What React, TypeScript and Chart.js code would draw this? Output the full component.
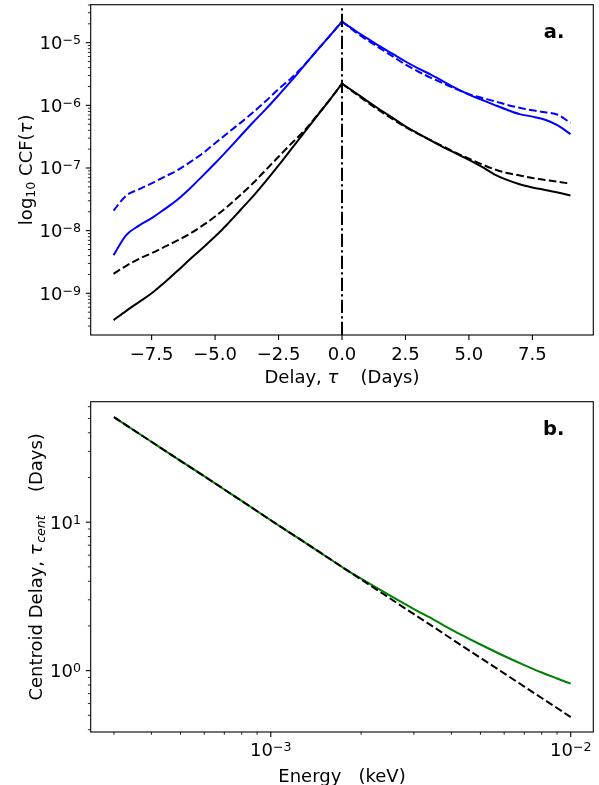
import React, { useEffect, useRef } from "react";
import { Chart, registerables } from "chart.js";

Chart.register(...registerables);

// ---------- Panel a: cross-correlation functions ----------
const TAU = [-9, -8.5, -8, -7.5, -7, -6.5, -6, -5.5, -5, -4.5, -4, -3.5, -3, -2.5, -2, -1.5, -1, -0.5, 0,
  0.5, 1, 1.5, 2, 2.5, 3, 3.5, 4, 4.5, 5, 5.5, 6, 6.5, 7, 7.5, 8, 8.5, 9];

const CCF_BLUE_SOLID = [4.07e-9, 8.51e-9, 1.2e-8, 1.58e-8, 2.19e-8, 3.09e-8, 4.68e-8, 7.41e-8, 1.19e-7, 1.95e-7,
  3.24e-7, 5.37e-7, 8.71e-7, 1.45e-6, 2.45e-6, 4.27e-6, 7.41e-6, 1.26e-5, 2.16e-5,
  1.58e-5, 1.17e-5, 8.71e-6, 6.61e-6, 5.01e-6, 3.89e-6, 3.09e-6, 2.4e-6, 1.86e-6, 1.48e-6, 1.23e-6, 1.02e-6,
  8.51e-7, 7.24e-7, 6.61e-7, 5.89e-7, 4.79e-7, 3.47e-7];

const CCF_BLUE_DASHED = [2.09e-8, 3.63e-8, 4.57e-8, 5.69e-8, 7.24e-8, 9.12e-8, 1.23e-7, 1.7e-7, 2.48e-7, 3.63e-7,
  5.25e-7, 7.76e-7, 1.17e-6, 1.82e-6, 2.72e-6, 4.32e-6, 7.41e-6, 1.26e-5, 2.19e-5,
  1.51e-5, 1.1e-5, 8.13e-6, 6.03e-6, 4.47e-6, 3.47e-6, 2.75e-6, 2.24e-6, 1.82e-6, 1.51e-6, 1.32e-6, 1.17e-6,
  1.02e-6, 9.12e-7, 8.32e-7, 7.76e-7, 7.08e-7, 5.25e-7];

const CCF_BLACK_SOLID = [3.72e-10, 5.25e-10, 7.24e-10, 1.0e-9, 1.48e-9, 2.24e-9, 3.47e-9, 5.25e-9, 8.04e-9, 1.29e-8,
  2.14e-8, 3.55e-8, 6.17e-8, 1.1e-7, 2.0e-7, 3.63e-7, 6.61e-7, 1.2e-6, 2.22e-6,
  1.62e-6, 1.17e-6, 8.51e-7, 6.31e-7, 4.62e-7, 3.55e-7, 2.75e-7, 2.14e-7, 1.7e-7, 1.35e-7, 1.05e-7, 7.94e-8,
  6.46e-8, 5.5e-8, 4.9e-8, 4.47e-8, 4.07e-8, 3.63e-8];

const CCF_BLACK_DASHED = [2.04e-9, 2.75e-9, 3.55e-9, 4.37e-9, 5.5e-9, 6.92e-9, 8.91e-9, 1.2e-8, 1.68e-8, 2.45e-8,
  3.72e-8, 5.75e-8, 9.33e-8, 1.51e-7, 2.45e-7, 3.89e-7, 6.76e-7, 1.2e-6, 2.22e-6,
  1.58e-6, 1.12e-6, 8.13e-7, 6.03e-7, 4.52e-7, 3.51e-7, 2.75e-7, 2.19e-7, 1.74e-7, 1.41e-7, 1.15e-7, 9.55e-8,
  8.32e-8, 7.59e-8, 6.92e-8, 6.46e-8, 6.03e-8, 5.62e-8];

const TAU_RANGE = [-9.9, 9.9];
const TAU_TICKS = [-7.5, -5, -2.5, 0, 2.5, 5, 7.5];
const CCF_RANGE = [2.16e-10, 4.04e-5];
const CCF_DECADES = [-9, -8, -7, -6, -5];
const ZERO_LAG = [0, 0];

// ---------- Panel b: centroid delay vs energy ----------
const ENERGY = [3e-4, 4e-4, 5e-4, 6e-4, 7e-4, 8e-4, 1e-3, 1.25e-3, 1.5e-3, 1.75e-3, 2e-3, 2.5e-3, 3e-3, 3.5e-3,
  4e-3, 4.5e-3, 5e-3, 6e-3, 7e-3, 8e-3, 9e-3, 1e-2];
const DELAY_CENTROID = [51.0, 34.8, 25.9, 20.4, 16.6, 13.9, 10.3, 7.68, 6.03, 4.91, 4.16, 3.2, 2.6, 2.2,
  1.89, 1.67, 1.5, 1.255, 1.09, 0.971, 0.885, 0.817];
const DELAY_POWERLAW = [51.0, 34.8, 25.9, 20.4, 16.6, 13.9, 10.3, 7.68, 6.03, 4.91, 4.12, 3.06, 2.4, 1.96,
  1.64, 1.4, 1.22, 0.958, 0.781, 0.654, 0.56, 0.486];
const ENERGY_RANGE = [2.51e-4, 1.189e-2];
const ENERGY_DECADES = [-3, -2];
const DELAY_RANGE = [0.386, 64.8];
const DELAY_DECADES = [0, 1];

// ---------- styling helpers ----------
const FS = 18;
const FAMILY = "'DejaVu Sans', sans-serif";
const DASH = [7.7, 3.3];
const DASHDOT = [13.3, 3.3, 2.1, 3.3];

type Seg = { t: string; s?: number; dy?: number; it?: boolean; b?: boolean; pad?: number };

function fontOf(size: number, it?: boolean, b?: boolean) {
  return `${it ? "italic " : ""}${b ? "bold " : ""}${size}px ${FAMILY}`;
}
function segWidth(ctx: CanvasRenderingContext2D, segs: Seg[], fs: number) {
  let w = 0;
  for (const g of segs) {
    ctx.font = fontOf(fs * (g.s ?? 1), g.it, g.b);
    w += ctx.measureText(g.t).width + (g.pad ?? 0);
  }
  return w;
}
function drawSegs(ctx: CanvasRenderingContext2D, segs: Seg[], x: number, y: number, fs: number,
  align: "left" | "center" | "right") {
  const w = segWidth(ctx, segs, fs);
  let cx = align === "center" ? x - w / 2 : align === "right" ? x - w : x;
  ctx.textAlign = "left";
  ctx.textBaseline = "alphabetic";
  for (const g of segs) {
    ctx.font = fontOf(fs * (g.s ?? 1), g.it, g.b);
    ctx.fillText(g.t, cx, y + (g.dy ?? 0));
    cx += ctx.measureText(g.t).width + (g.pad ?? 0);
  }
}
function minus(s: string) {
  return s.replace("-", "\u2212");
}
function powLabel(exp: number): Seg[] {
  return [{ t: "10" }, { t: minus(String(exp)), s: 0.7, dy: -5 }];
}
function logMinors(min: number, max: number) {
  const out: number[] = [];
  for (let d = Math.floor(Math.log10(min)); d <= Math.floor(Math.log10(max)); d++) {
    for (let k = 2; k <= 9; k++) {
      const v = k * Math.pow(10, d);
      if (v >= min && v <= max) out.push(v);
    }
  }
  return out;
}

type AxisSpec = {
  xMajor: number[]; xMinor: number[]; xLabels: Seg[][]; xLabelBase: number;
  yMajor: number[]; yMinor: number[]; yLabels: Seg[][];
  xTitle: Seg[]; xTitleBase: number; yTitle: Seg[]; yTitleX: number;
  panel: string;
};

function mplPlugin(spec: AxisSpec) {
  return {
    id: "mplAxes",
    afterDraw(chart: any) {
      const ctx: CanvasRenderingContext2D = chart.ctx;
      const ca = chart.chartArea;
      const xs = chart.scales.x;
      const ys = chart.scales.y;
      ctx.save();
      ctx.fillStyle = "#000";
      ctx.strokeStyle = "#000";
      ctx.lineWidth = 1.1;
      ctx.strokeRect(ca.left, ca.top, ca.right - ca.left, ca.bottom - ca.top);
      const tick = (horizontal: boolean, p: number, len: number, w: number) => {
        ctx.lineWidth = w;
        ctx.beginPath();
        if (horizontal) {
          ctx.moveTo(p, ca.bottom);
          ctx.lineTo(p, ca.bottom + len);
        } else {
          ctx.moveTo(ca.left, p);
          ctx.lineTo(ca.left - len, p);
        }
        ctx.stroke();
      };
      spec.xMinor.forEach((v) => tick(true, xs.getPixelForValue(v), 2.8, 0.85));
      spec.yMinor.forEach((v) => tick(false, ys.getPixelForValue(v), 2.8, 0.85));
      spec.xMajor.forEach((v) => tick(true, xs.getPixelForValue(v), 4.9, 1.1));
      spec.yMajor.forEach((v) => tick(false, ys.getPixelForValue(v), 4.9, 1.1));
      spec.xMajor.forEach((v, i) => {
        drawSegs(ctx, spec.xLabels[i], xs.getPixelForValue(v), ca.bottom + spec.xLabelBase, FS, "center");
      });
      spec.yMajor.forEach((v, i) => {
        drawSegs(ctx, spec.yLabels[i], ca.left - 9.7, ys.getPixelForValue(v) + 6.5, FS, "right");
      });
      const cxm = (ca.left + ca.right) / 2;
      drawSegs(ctx, spec.xTitle, cxm, ca.bottom + spec.xTitleBase, FS, "center");
      ctx.save();
      ctx.translate(spec.yTitleX, (ca.top + ca.bottom) / 2);
      ctx.rotate(-Math.PI / 2);
      drawSegs(ctx, spec.yTitle, 0, 0, FS, "center");
      ctx.restore();
      drawSegs(ctx, [{ t: spec.panel, b: true }], ca.right - 29, ca.top + 33.5, 19.5, "right");
      ctx.restore();
    },
  };
}

function lineSet(xs: number[], ys: number[], color: string, dash: number[], order: number, smooth: boolean) {
  return {
    data: xs.map((x, i) => ({ x, y: ys[i] })),
    borderColor: color,
    borderWidth: 2,
    borderDash: dash,
    borderCapStyle: "butt",
    borderJoinStyle: "round",
    pointRadius: 0,
    fill: false,
    tension: 0,
    cubicInterpolationMode: smooth ? "monotone" : "default",
    order,
  };
}

// Each CCF has a cusp at zero lag: draw the rising and falling branches separately so that
// each branch can be smoothed without rounding the peak.
function branches(xs: number[], ys: number[], color: string, dash: number[], order: number) {
  const k = xs.indexOf(0);
  return [
    lineSet(xs.slice(0, k + 1), ys.slice(0, k + 1), color, dash, order, true),
    lineSet(xs.slice(k), ys.slice(k), color, dash, order, true),
  ];
}

function baseOptions(padTop: number) {
  return {
    animation: false,
    responsive: false,
    devicePixelRatio: 1,
    events: [],
    layout: { padding: { left: 0, right: 5.7, top: padTop, bottom: 0 } },
    plugins: { legend: { display: false }, tooltip: { enabled: false }, title: { display: false } },
  };
}

function configA() {
  const spec: AxisSpec = {
    xMajor: TAU_TICKS,
    xMinor: [],
    xLabels: TAU_TICKS.map((v) => [{ t: minus(v.toFixed(1)) }]),
    xLabelBase: 25,
    yMajor: CCF_DECADES.map((d) => Math.pow(10, d)),
    yMinor: logMinors(CCF_RANGE[0], CCF_RANGE[1]),
    yLabels: CCF_DECADES.map((d) => powLabel(d)),
    xTitle: [{ t: "Delay, " }, { t: "\u03c4", it: true, pad: 5 }, { t: "   (Days)" }],
    xTitleBase: 48,
    yTitle: [{ t: "log" }, { t: "10", s: 0.7, dy: 3.5 }, { t: " CCF(" }, { t: "\u03c4", it: true, pad: 1 }, { t: ")" }],
    yTitleX: 31.5,
    panel: "a.",
  };
  return {
    type: "line",
    data: {
      datasets: [
        ...branches(TAU, CCF_BLUE_SOLID, "#0000ff", [], 5),
        ...branches(TAU, CCF_BLUE_DASHED, "#0000ff", DASH, 4),
        ...branches(TAU, CCF_BLACK_SOLID, "#000000", [], 3),
        ...branches(TAU, CCF_BLACK_DASHED, "#000000", DASH, 2),
        lineSet(ZERO_LAG, CCF_RANGE, "#000000", DASHDOT, 1, false),
      ],
    },
    options: {
      ...baseOptions(4.7),
      scales: {
        x: {
          type: "linear", min: TAU_RANGE[0], max: TAU_RANGE[1],
          grid: { display: false, drawTicks: false }, border: { display: false }, ticks: { display: false },
          afterFit: (s: any) => { s.height = 57; },
        },
        y: {
          type: "logarithmic", min: CCF_RANGE[0], max: CCF_RANGE[1],
          grid: { display: false, drawTicks: false }, border: { display: false }, ticks: { display: false },
          afterFit: (s: any) => { s.width = 90.7; },
        },
      },
    },
    plugins: [mplPlugin(spec)],
  };
}

function configB() {
  const spec: AxisSpec = {
    xMajor: ENERGY_DECADES.map((d) => Math.pow(10, d)),
    xMinor: logMinors(ENERGY_RANGE[0], ENERGY_RANGE[1]),
    xLabels: ENERGY_DECADES.map((d) => powLabel(d)),
    xLabelBase: 23.8,
    yMajor: DELAY_DECADES.map((d) => Math.pow(10, d)),
    yMinor: logMinors(DELAY_RANGE[0], DELAY_RANGE[1]),
    yLabels: DELAY_DECADES.map((d) => powLabel(d)),
    xTitle: [{ t: "Energy   (keV)" }],
    xTitleBase: 49.5,
    yTitle: [
      { t: "Centroid Delay, " }, { t: "\u03c4", it: true, pad: 1.5 }, { t: "cent", it: true, s: 0.7, dy: 3.5, pad: 6 },
      { t: "   (Days)" },
    ],
    yTitleX: 41.5,
    panel: "b.",
  };
  return {
    type: "line",
    data: {
      datasets: [
        lineSet(ENERGY, DELAY_CENTROID, "#008000", [], 2, true),
        lineSet(ENERGY, DELAY_POWERLAW, "#000000", DASH, 1, false),
      ],
    },
    options: {
      ...baseOptions(9.7),
      scales: {
        x: {
          type: "logarithmic", min: ENERGY_RANGE[0], max: ENERGY_RANGE[1],
          grid: { display: false, drawTicks: false }, border: { display: false }, ticks: { display: false },
          afterFit: (s: any) => { s.height = 53; },
        },
        y: {
          type: "logarithmic", min: DELAY_RANGE[0], max: DELAY_RANGE[1],
          grid: { display: false, drawTicks: false }, border: { display: false }, ticks: { display: false },
          afterFit: (s: any) => { s.width = 90.7; },
        },
      },
    },
    plugins: [mplPlugin(spec)],
  };
}

function Panel({ top, height, make }: { top: number; height: number; make: () => any }) {
  const ref = useRef<HTMLCanvasElement | null>(null);
  useEffect(() => {
    if (!ref.current) return;
    const chart = new Chart(ref.current, make());
    return () => chart.destroy();
  }, [make]);
  return (
    <canvas
      ref={ref}
      width={599}
      height={height}
      style={{ position: "absolute", left: 0, top, width: 599, height, display: "block" }}
    />
  );
}

export default function App() {
  return (
    <div style={{ position: "absolute", left: 0, top: 0, width: 599, height: 785, background: "#fff", overflow: "hidden" }}>
      <Panel top={0} height={392} make={configA} />
      <Panel top={392} height={393} make={configB} />
    </div>
  );
}
